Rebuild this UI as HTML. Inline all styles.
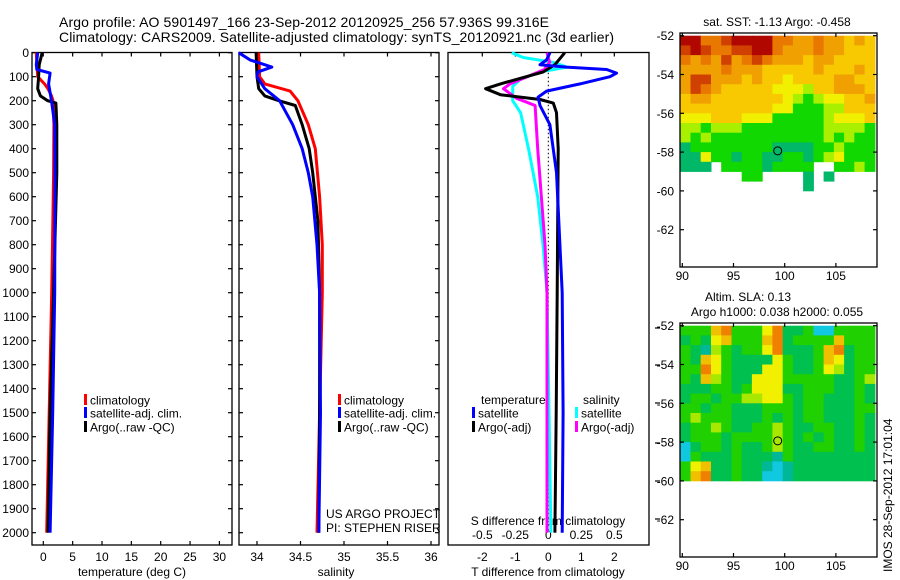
<!DOCTYPE html>
<html><head><meta charset="utf-8"><style>
html,body{margin:0;padding:0;background:#fff}
svg{display:block;font-family:"Liberation Sans",sans-serif}
</style></head><body>
<svg id="c" width="900" height="580" viewBox="0 0 900 580">
<text x="59" y="27" font-size="14" textLength="490">Argo profile: AO 5901497_166 23-Sep-2012 20120925_256 57.936S 99.316E</text>
<text x="59" y="42" font-size="14" textLength="555">Climatology: CARS2009. Satellite-adjusted climatology: synTS_20120921.nc (3d earlier)</text>
<g id="g"></g>
</svg>
<script>
// ---------- data ----------
const depthTicks=[0,100,200,300,400,500,600,700,800,900,1000,1100,1200,1300,1400,1500,1600,1700,1800,1900,2000];
const tempTicks=[0,5,10,15,20,25,30];
const salTicks=["34","34.5","35","35.5","36"];
const tdTicks=["-2","-1","0","1","2"];
const sdTicks=["-0.5","-0.25","0","0.25","0.5"];
const climTD=[0,100,130,150,180,200,300,500,800,1000,1500,2000];
const climT=[-1.2,-0.95,0.2,0.8,1.4,1.65,1.8,1.75,1.57,1.43,1.0,0.58];
const satTD=[0,50,70,85,130,200,300,500,1000,1500,2000];
const satT=[-0.95,-1.2,-1.1,1.15,0.9,1.4,1.95,2.0,1.95,1.6,1.15];
const argoTD=[0,20,50,100,150,180,200,210,300,500,1000,1500,2000];
const argoT=[-0.2,-0.4,-0.7,-0.8,-0.95,-0.5,0.75,2.15,2.3,2.3,1.75,1.15,0.8];
const climSD=[0,100,130,160,200,300,400,600,800,1000,1500,2000];
const climS=[34.02,34.03,34.09,34.38,34.47,34.59,34.67,34.72,34.75,34.75,34.72,34.69];
const satSD=[0,30,60,80,100,150,200,300,400,500,600,800,1000,1500,2000];
const satS=[33.79,33.92,34.17,34.01,34.0,34.09,34.26,34.41,34.52,34.59,34.64,34.69,34.72,34.73,34.71];
const argoSD=[0,100,150,180,200,220,300,400,500,700,1000,1500,2000];
const argoS=[33.99,34.0,34.02,34.09,34.25,34.44,34.52,34.6,34.64,34.7,34.72,34.72,34.71];
const dTD=[0,50,80,130,150,175,195,210,230,250,400,1000,1500,2000];
const dT_argo=[0.5,0.2,-0.15,-1.45,-1.9,-1.45,-0.25,0.15,0.2,0.25,0.3,0.27,0.24,0.2];
const dSatD=[0,30,50,60,70,85,100,130,160,185,220,300,500,1000,1500,2000];
const dT_sat=[0.05,-0.05,-0.25,0.55,1.77,2.07,1.87,0.96,-0.05,-0.31,-0.25,0.05,0.25,0.42,0.45,0.42];
const dSD=[0,20,40,60,80,110,140,200,250,400,600,800,1000,1500,2000];
const dS_sat=[-0.277,-0.19,0.036,0.14,-0.06,-0.21,-0.27,-0.27,-0.21,-0.15,-0.08,-0.04,-0.01,0.005,0.02];
const dSAD=[0,40,70,100,130,150,190,220,400,800,1000,1500,2000];
const dS_argo=[-0.01,0.01,-0.03,-0.16,-0.29,-0.34,-0.24,-0.1,-0.08,-0.025,-0.01,-0.01,-0.01];
const lonTicks=[90,95,100,105];
const latTicks=[-52,-54,-56,-58,-60,-62];
const sstGrid=["0022100002233233434","1012211002333233444","2323132123334334444","3333233344444344434","3113334344544443344","3123444445556443334","4334444444567655443","4444444445577766444","5554445557777765554","6676667777777766667","6767777777777767677","8777777778888776777","8857787788778765777","888.777787777..7767","......77....8.8....","............8......"];
const slaGrid=["4441044420554774444","5452144410544441444","4563454420555410544","4512455552455412544","4402455522455423544","4513455222444445543","5554454222554445545","5445443322454455545","4454455544454455544","4344455545454455545","5443455443455445545","5444544443454545545","7544545543455445545","7455545556455555555","4215545567655555555","4105545577655555555"];
const argoLon=99.316, argoLat=-57.936;
// ---------- helpers ----------
const NS="http://www.w3.org/2000/svg";const G=document.getElementById('g');
function mk(t,a,p){const e=document.createElementNS(NS,t);for(const k in a)e.setAttribute(k,a[k]);(p||G).appendChild(e);return e;}
const yD=d=>52.7+d*0.24;
const xT=v=>43.3+v*5.87;
const xS=v=>257+(v-34)*87;
const xdT=v=>548.3+v*33;
const xdS=v=>548.3+v*132;
function frame(x0,x1,name){const r=mk('rect',{x:x0,y:52.5,width:x1-x0,height:492.5,fill:'none',stroke:'#000','stroke-width':1.3});

}
function txt(x,y,s,anchor,size,name){const t=mk('text',{x:x,y:y,'font-size':size||12,'text-anchor':anchor||'start'});t.textContent=s;

return t;}
function line(ds,vs,fx,col,name,w){let p='';for(let i=0;i<ds.length;i++)p+=(i?'L':'M')+fx(vs[i]).toFixed(1)+' '+yD(ds[i]).toFixed(1);
const e=mk('path',{d:p,fill:'none',stroke:col,'stroke-width':w||3,'stroke-linejoin':'round'});

}
function tick(x1,y1,x2,y2){const e=mk('line',{x1:x1,y1:y1,x2:x2,y2:y2,stroke:'#000','stroke-width':1.2});

}
// ---------- panels ----------
frame(32,232,'temperature-panel');frame(239,439,'salinity-panel');frame(448,649,'difference-panel');
depthTicks.forEach(d=>{const y=yD(d);txt(29,y+4.5,String(d),'end',12,'depth-tick-label');
tick(32,y,36,y);tick(228,y,232,y);tick(239,y,243,y);tick(435,y,439,y);});
tempTicks.forEach(v=>{const x=xT(v);txt(x,561,String(v),'middle',12,'temperature-tick-label');tick(x,545,x,541);tick(x,52.5,x,56.5);});
txt(132,576,'temperature (deg C)','middle',12,'temperature-axis-title');
salTicks.forEach(s=>{const x=xS(+s);txt(x,561,s,'middle',12,'salinity-tick-label');tick(x,545,x,541);tick(x,52.5,x,56.5);});
txt(336,576,'salinity','middle',12,'salinity-axis-title');
tdTicks.forEach(s=>{const x=xdT(+s);txt(x,561,s,'middle',12,'t-diff-tick-label');tick(x,52.5,x,56.5);});
txt(548,576,'T difference from climatology','middle',12,'t-diff-axis-title');
sdTicks.forEach(s=>{const x=xdS(+s);txt(x,539,s,'middle',12,'s-diff-tick-label');});
txt(548,525,'S difference from climatology','middle',12,'s-diff-axis-title');
[328,365,403,443,481,519].forEach(y=>tick(655,y,660,y));
// zero dotted line
const z=mk('line',{x1:xdT(0),y1:yD(0),x2:xdT(0),y2:yD(2000),stroke:'#000','stroke-width':1,'stroke-dasharray':'1.5 2.5'});


// series
line(climTD,climT,xT,'#f00','temp-climatology-line');
line(argoTD,argoT,xT,'#000','temp-argo-line');
line(satTD,satT,xT,'#00f','temp-satellite-line');
line(climSD,climS,xS,'#f00','sal-climatology-line');
line(argoSD,argoS,xS,'#000','sal-argo-line');
line(satSD,satS,xS,'#00f','sal-satellite-line');
line(dSD,dS_sat,xdS,'#0ff','s-diff-satellite-line');
line(dSAD,dS_argo,xdS,'#f0f','s-diff-argo-line');
line(dTD,dT_argo,xdT,'#000','t-diff-argo-line');
line(dSatD,dT_sat,xdT,'#00f','t-diff-satellite-line');
// legends
function leg(x,y,col,s,name){const r=mk('rect',{x:x,y:y-6,width:3,height:11,fill:col});


txt(x+6,y+4.5,s,'start',12,name);}
[[84,'#f00','climatology'],[338,'#f00','climatology']].forEach(a=>leg(a[0],400,a[1],a[2],'legend-climatology'));
[84,338].forEach(x=>{leg(x,413,'#00f','satellite-adj. clim.','legend-satellite');leg(x,427,'#000','Argo(..raw -QC)','legend-argo');});
txt(326,518,'US ARGO PROJECT','start',12,'project-label');txt(326,532,'PI: STEPHEN RISER','start',12,'pi-label');
txt(481,404,'temperature','start',12,'legend-temperature-heading');
leg(472,413,'#00f','satellite','legend-t-satellite');leg(472,427,'#000','Argo(-adj)','legend-t-argo');
txt(583,404,'salinity','start',12,'legend-salinity-heading');
leg(575,413,'#0ff','satellite','legend-s-satellite');leg(575,427,'#f0f','Argo(-adj)','legend-s-argo');
// ---------- maps ----------
const sstCols=['#b00800','#d04000','#e87800','#f0a000','#f8c800','#f0f000','#a8f000','#10d800','#00b868'];
const slaCols=['#f08000','#f0c000','#f0f000','#a8e800','#20d000','#00c050','#00b898','#10c8e0'];
function map(top,grid,cols,name,titles){
  const x0=680,x1=877,y1=top+234;
  const xL=l=>682.3+(l-90)*10.24, yL=a=>top+2.7-(a+52)*19.4;
  grid.forEach((row,r)=>{for(let c=0;c<row.length;c++){const ch=row[c];if(ch==='.')continue;
    const xa=Math.max(x0,xL(89.8+c)), ya=Math.max(top,yL(-52-r*0.5));
    const e=mk('rect',{x:xa.toFixed(1),y:ya.toFixed(1),width:(xL(90.85+c)-xa).toFixed(1),height:(yL(-52.52-r*0.5)-ya).toFixed(1),fill:cols[+ch]});
    
    }});
  const fr=mk('rect',{x:x0,y:top,width:x1-x0,height:y1-top,fill:'none',stroke:'#000','stroke-width':1.3});
  
  
  latTicks.forEach(a=>{const y=yL(a);txt(674,y+4.5,String(a),'end',12,name+'-lat-label');tick(x0,y,x0+4,y);tick(x1,y,x1-4,y);});
  lonTicks.forEach(l=>{const x=xL(l);txt(x,y1+13,String(l),'middle',12,name+'-lon-label');tick(x,y1,x,y1-4);tick(x,top,x,top+4);});
  const cc=mk('circle',{cx:xL(argoLon),cy:yL(argoLat),r:4,fill:'none',stroke:'#000','stroke-width':1});
  
  
  titles.forEach(t=>txt(t[0],t[1],t[2],'middle',12,name+'-title'));
}
map(33,sstGrid,sstCols,'sst-map',[[777,26,'sat. SST: -1.13 Argo: -0.458']]);
map(323,slaGrid,slaCols,'sla-map',[[748,301,'Altim. SLA: 0.13'],[777,316,'Argo h1000: 0.038 h2000: 0.055']]);
const im=mk('text',{x:0,y:0,'font-size':12,transform:'translate(892,572) rotate(-90)'});im.textContent='IMOS 28-Sep-2012 17:01:04';


</script>
</body></html>
